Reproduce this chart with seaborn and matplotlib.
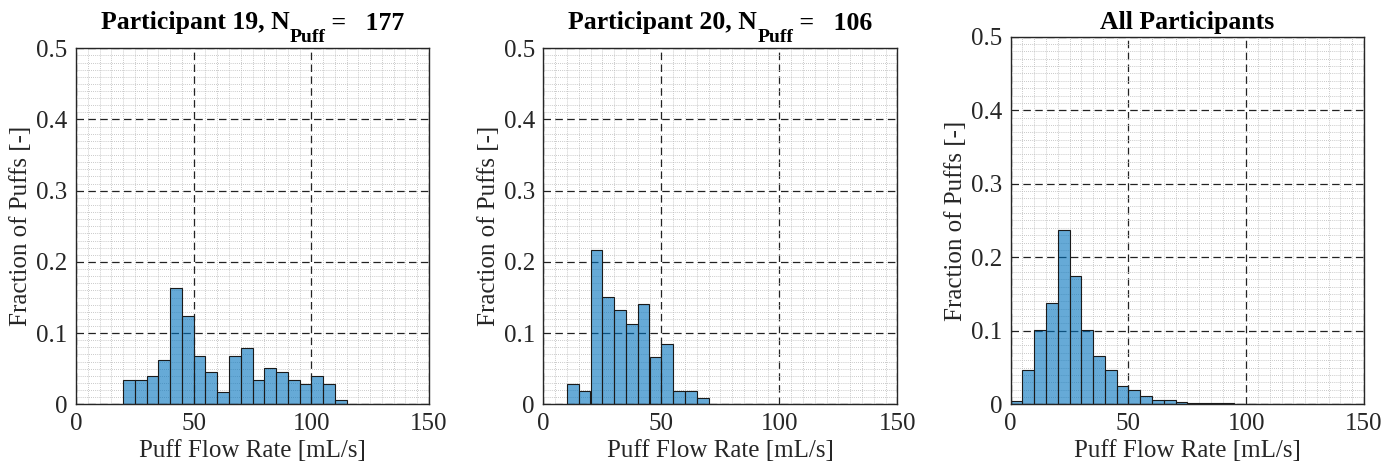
import numpy as np
import pandas as pd
import matplotlib
matplotlib.use("Agg")
import matplotlib.pyplot as plt
import seaborn as sns
from matplotlib.ticker import MultipleLocator

# ---- data (bin width 5 mL/s) ----
p19_edges_start = 20
p19_counts = [6, 6, 7, 11, 29, 22, 12, 8, 3, 12, 14, 6, 9, 8, 6, 5, 7, 5, 1]
p19_n = 177

p20_edges_start = 10
p20_counts = [3, 2, 23, 16, 14, 12, 15, 7, 9, 2, 2, 1]
p20_n = 106

all_edges_start = 0
all_fractions = [0.0045, 0.0471, 0.1015, 0.1378, 0.2375, 0.175, 0.1015, 0.0662,
                 0.0462, 0.0245, 0.0199, 0.0109, 0.0063, 0.0063, 0.0036, 0.002,
                 0.0014, 0.0014, 0.0014, 0.0005, 0.0005]

# title pieces: (text, is_subscript)
titles = [
    [("Participant 19, N", False), ("Puff", True), (" =   177", False)],
    [("Participant 20, N", False), ("Puff", True), (" =   106", False)],
    [("All Participants", False)],
]
xlabel = "Puff Flow Rate [mL/s]"
ylabel = "Fraction of Puffs [-]"
x_ticks = [0, 50, 100, 150]
y_ticks = [0, 0.1, 0.2, 0.3, 0.4, 0.5]
y_ticklabels = ["0", "0.1", "0.2", "0.3", "0.4", "0.5"]
bin_width = 5

sns.set_style("white")
plt.rcParams['font.family'] = ['Liberation Serif', 'DejaVu Serif']

def make_df(start, fracs):
    n = len(fracs)
    centers = start + bin_width * (np.arange(n) + 0.5)
    return pd.DataFrame({"rate": centers, "frac": fracs}), (start, start + bin_width * n)

datasets = [
    make_df(p19_edges_start, [c / p19_n for c in p19_counts]),
    make_df(p20_edges_start, [c / p20_n for c in p20_counts]),
    make_df(all_edges_start, all_fractions),
]

W, H = 1398, 469
fig = plt.figure(figsize=(W / 100, H / 100), dpi=100)
renderer = fig.canvas.get_renderer()
rects = [
    (76, 48.3, 429, 404.3),
    (543.3, 48.3, 897.3, 404.3),
    (1010.7, 36.7, 1364, 404.3),
]
title_baseline = [29.5, 29.5, 28.5]
face = (0.0, 0.447, 0.741)
text_col = "#262626"

def draw_title(pieces, cx, base_y):
    objs = []
    for txt, sub in pieces:
        fs = 14 if sub else 18.5
        y = base_y + (13 if sub else 0)
        t = fig.text(0, 1 - y / H, txt, fontsize=fs, fontweight="bold",
                     va="baseline", ha="left", color="black")
        objs.append(t)
    widths = [o.get_window_extent(renderer).width for o in objs]
    x = cx - sum(widths) / 2
    for o, w in zip(objs, widths):
        o.set_x(x / W)
        x += w

for i, ((df, brange), (l, t, r, b)) in enumerate(zip(datasets, rects)):
    ax = fig.add_axes([l / W, 1 - b / H, (r - l) / W, (b - t) / H])
    sns.histplot(data=df, x="rate", weights="frac", binwidth=bin_width,
                 binrange=brange, ax=ax,
                 color=face, alpha=0.6, edgecolor="#1a1a1a", linewidth=0.8,
                 zorder=3)
    ax.set_xlim(0, 150)
    ax.set_ylim(0, 0.5)
    ax.xaxis.set_minor_locator(MultipleLocator(5))
    ax.yaxis.set_minor_locator(MultipleLocator(0.01))
    ax.set_yticks(y_ticks)
    ax.set_yticklabels(y_ticklabels)
    ax.set_xticks(x_ticks)
    ax.set_xticklabels([str(v) for v in x_ticks])
    ax.grid(which="minor", color="#b8b8b8", linestyle=(0, (1, 1.5)), linewidth=0.6, zorder=0)
    ax.grid(which="major", color="#222222", linestyle=(0, (6, 3.5)), linewidth=0.9, zorder=4)
    ax.set_axisbelow(False)
    ax.tick_params(which="both", length=0, labelsize=18, pad=6, colors=text_col)
    ax.set_xlabel(xlabel, fontsize=18, color=text_col, labelpad=4)
    ax.set_ylabel(ylabel, fontsize=18, color=text_col, labelpad=3)
    for s in ax.spines.values():
        s.set_color(text_col)
        s.set_linewidth(1.0)
        s.set_zorder(6)
    draw_title(titles[i], (l + r) / 2, title_baseline[i])

fig.savefig("out.png", dpi=100)
